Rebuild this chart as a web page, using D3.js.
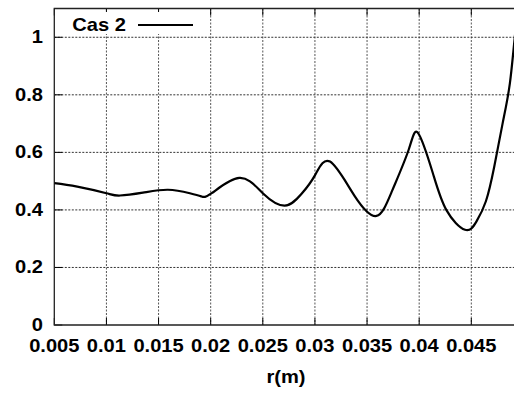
<!DOCTYPE html>
<html>
<head>
<meta charset="utf-8">
<script src="https://cdn.jsdelivr.net/npm/d3@7"></script>
<style>
  body { margin: 0; background: #fff; }
  text { font-family: "Liberation Sans", Arial, sans-serif; font-weight: bold; fill: #000; }
</style>
</head>
<body>
<svg id="chart" width="514" height="395"></svg>
<script>
// values
var rValues = [0.005, 0.0072, 0.0100, 0.0113, 0.0135, 0.0159, 0.0180, 0.0191, 0.0201,
               0.02275, 0.0250, 0.0271, 0.0287, 0.0300, 0.03145, 0.0338, 0.0359, 0.0374,
               0.0390, 0.0399, 0.0413, 0.0426, 0.0444, 0.0455, 0.0464, 0.0472, 0.0480, 0.0487, 0.0492, 0.0496];
var cas2 = [0.493, 0.481, 0.458, 0.450, 0.460, 0.470, 0.458, 0.447, 0.458,
            0.511, 0.458, 0.415, 0.455, 0.520, 0.568, 0.449, 0.379, 0.466,
            0.610, 0.667, 0.529, 0.400, 0.331, 0.360, 0.430, 0.550, 0.700, 0.840, 1.010, 1.110];
var xTicks = [0.005, 0.01, 0.015, 0.02, 0.025, 0.03, 0.035, 0.04, 0.045];
var yTicks = [0, 0.2, 0.4, 0.6, 0.8, 1];
var seriesName = "Cas 2";
var xLabel = "r(m)";

var svg = d3.select("#chart");
// plot frame (note: "top" is taken by window.top, so use other names)
var pLeft = 54.3, pRight = 513, pTop = 8.5, pBottom = 325;
var fs = 17.5, stretch = "scale(1.15,1)";

var x = d3.scaleLinear().domain([0.005, 0.049]).range([pLeft, pRight]);
var y = d3.scaleLinear().domain([0, 1.1]).range([pBottom, pTop]);

// clip so the curve stops at the frame
svg.append("clipPath").attr("id", "clip")
  .append("rect").attr("x", pLeft).attr("y", pTop).attr("width", 600).attr("height", pBottom - pTop);

// grid, dotted
svg.append("g").selectAll("line").data(xTicks.slice(1)).enter().append("line")
  .attr("x1", function(d){ return x(d); }).attr("x2", function(d){ return x(d); })
  .attr("y1", pTop).attr("y2", pBottom)
  .attr("stroke", "#555").attr("stroke-width", 1).attr("stroke-dasharray", "2,1.5");
svg.append("g").selectAll("line").data(yTicks.slice(1)).enter().append("line")
  .attr("x1", pLeft).attr("x2", 514)
  .attr("y1", function(d){ return y(d); }).attr("y2", function(d){ return y(d); })
  .attr("stroke", "#333").attr("stroke-width", 1).attr("stroke-dasharray", "2,1.5");

// tick marks inside the frame (bottom, top, left)
svg.append("g").selectAll("line").data(xTicks).enter().append("line")
  .attr("x1", function(d){ return x(d); }).attr("x2", function(d){ return x(d); })
  .attr("y1", pBottom).attr("y2", pBottom - 7).attr("stroke", "#000");
svg.append("g").selectAll("line").data(xTicks).enter().append("line")
  .attr("x1", function(d){ return x(d); }).attr("x2", function(d){ return x(d); })
  .attr("y1", pTop).attr("y2", pTop + 7).attr("stroke", "#000");
svg.append("g").selectAll("line").data(yTicks).enter().append("line")
  .attr("x1", pLeft).attr("x2", pLeft + 8)
  .attr("y1", function(d){ return y(d); }).attr("y2", function(d){ return y(d); })
  .attr("stroke", "#000");

// frame: left, bottom, top
svg.append("path")
  .attr("d", "M514," + pTop + "H" + pLeft + "V" + pBottom + "H514")
  .attr("fill", "none").attr("stroke", "#222").attr("stroke-width", 1.3);

// tick labels (text is a bit stretched horizontally, like the picture)
svg.append("g").selectAll("text").data(xTicks).enter().append("text")
  .attr("transform", function(d){ return "translate(" + x(d) + ",352) " + stretch; })
  .attr("text-anchor", "middle").attr("font-size", fs)
  .text(function(d){ return d; });
svg.append("g").selectAll("text").data(yTicks).enter().append("text")
  .attr("transform", function(d){ return "translate(43," + (y(d) + 6) + ") " + stretch; })
  .attr("text-anchor", "end").attr("font-size", fs)
  .text(function(d){ return d; });

svg.append("text")
  .attr("transform", "translate(286,383) " + stretch)
  .attr("text-anchor", "middle").attr("font-size", fs)
  .text(xLabel);

// the curve
var pts = rValues.map(function(r, i){ return [r, cas2[i]]; });
var line = d3.line()
  .x(function(d){ return x(d[0]); })
  .y(function(d){ return y(d[1]); })
  .curve(d3.curveNatural);
svg.append("path").datum(pts)
  .attr("clip-path", "url(#clip)")
  .attr("d", line)
  .attr("fill", "none").attr("stroke", "#000").attr("stroke-width", 2.2);

// legend
svg.append("rect").attr("x", 68).attr("y", 12).attr("width", 130).attr("height", 22).attr("fill", "#fff");
svg.append("text")
  .attr("transform", "translate(126,31) " + stretch)
  .attr("text-anchor", "end").attr("font-size", fs)
  .text(seriesName);
svg.append("line").attr("x1", 138).attr("x2", 193).attr("y1", 25).attr("y2", 25)
  .attr("stroke", "#000").attr("stroke-width", 2.2);
</script>
</body>
</html>
